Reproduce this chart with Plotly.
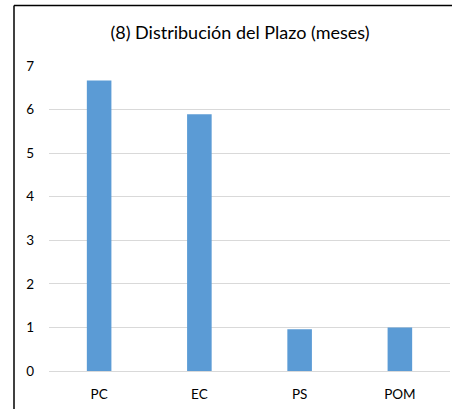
import plotly.graph_objects as go

categories = ["PC", "EC", "PS", "POM"]
values = [6.67, 5.89, 0.96, 1.0]
y_ticks = [0, 1, 2, 3, 4, 5, 6, 7]

W, H = 452, 409
L, R = 49, 2
T = 65.5
B = H - 370.7
plot_w = W - L - R
plot_h = H - T - B

fig = go.Figure(go.Bar(
    x=categories, y=values,
    marker=dict(color="#5B9BD5", line=dict(width=0)),
))

fig.update_layout(
    width=W, height=H,
    margin=dict(l=L, r=R, t=T, b=B),
    paper_bgcolor="white", plot_bgcolor="white",
    bargap=0.755,
    showlegend=False,
    font=dict(family="Lato, Liberation Sans, sans-serif", color="#262626"),
    title=dict(text="(8) Distribución del Plazo (meses)", x=240 / W, xanchor="center",
               y=1 - 33 / H, yanchor="middle",
               font=dict(size=18, color="#000000")),
)
fig.update_yaxes(range=[0, 7], tickvals=y_ticks, showgrid=True, gridcolor="#D9D9D9",
                 gridwidth=1, zeroline=True, zerolinecolor="#D9D9D9", zerolinewidth=1,
                 showline=False, ticks="", ticklabelstandoff=14,
                 tickfont=dict(size=13.5, color="#000000"))
fig.update_xaxes(showgrid=False, showline=False, ticks="", ticklabelstandoff=13,
                 tickfont=dict(size=13.5, color="#000000"))

# outer chart border (left and top edges only; right and bottom are cropped off)
x0 = (14 - L) / plot_w
y1 = (370.7 - 5) / plot_h
fig.add_shape(type="line", xref="paper", yref="paper",
              x0=x0, x1=x0, y0=-0.3, y1=y1,
              line=dict(color="#000000", width=1.5), layer="below")
fig.add_shape(type="line", xref="paper", yref="paper",
              x0=x0, x1=1.3, y0=y1, y1=y1,
              line=dict(color="#000000", width=1.5), layer="below")

fig.write_html("out.html", config={"displayModeBar": False},
               post_script="document.body.style.margin='0';document.body.style.overflow='hidden';"
                           "document.documentElement.style.overflow='hidden';")
